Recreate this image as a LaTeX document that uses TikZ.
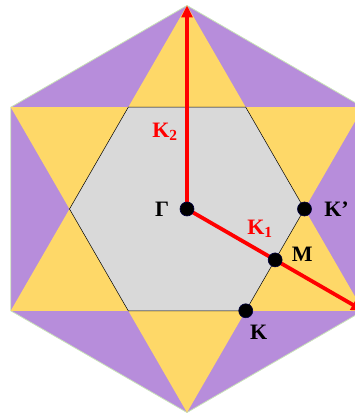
\documentclass[tikz,border=0pt]{standalone}
\usepackage{fontspec}
\setmainfont{Liberation Serif}
\usetikzlibrary{arrows.meta, positioning}
\definecolor{bzpurple}{HTML}{B78DDB}
\definecolor{bzyellow}{HTML}{FED868}
\definecolor{bzgray}{HTML}{D9D9D9}
\definecolor{bzedge}{HTML}{C9E3B8}

\begin{document}
\begin{tikzpicture}[
    x=1pt, y=1pt,
    vec/.style={-{Triangle[length=12pt, width=11pt]}, red, line width=3.8pt},
    kpoint/.style={circle, fill=black, draw=black!75!blue, line width=0.6pt,
      minimum size=14pt, inner sep=0pt},
    lbl/.style={font=\fontsize{22}{24}\selectfont\bfseries},
  ]
  \clip (-187,-206) rectangle (168,209);

  % ---- outer hexagon with the star inside ----
  \filldraw[fill=bzpurple, draw=bzedge, line width=0.8pt]
    (30:203.5) -- (90:203.5) -- (150:203.5) -- (210:203.5)
    -- (270:203.5) -- (330:203.5) -- cycle;
  \fill[bzyellow] (90:203.5) -- (210:203.5) -- (330:203.5) -- cycle;
  \fill[bzyellow] (30:203.5) -- (150:203.5) -- (270:203.5) -- cycle;

  % ---- first zone ----
  \filldraw[fill=bzgray, draw=black, line width=0.5pt]
    (0:117.5) -- (60:117.5) -- (120:117.5) -- (180:117.5)
    -- (240:117.5) -- (300:117.5) -- cycle;

  % ---- points ----
  \coordinate (G) at (0,0);
  \coordinate (Kp) at (0:117.5);
  \coordinate (M) at (-30:101.8);
  \coordinate (K) at (-60:117.5);
  \coordinate (b2) at (90:203.5);
  \coordinate (b1) at (-30:203.5);

  % reciprocal vectors
  \draw[vec] (G) -- (b2);
  \draw[vec] (G) -- (b1);
  \node[lbl, text=red] (k2lbl) at (-22,77) {K\textsubscript{2}};
  \node[lbl, text=red] (k1lbl) at (73,-20) {K\textsubscript{1}};

  \node[kpoint] (Gdot) at (G) {};
  \node[kpoint] (Kpdot) at (Kp) {};
  \node[kpoint] (Mdot) at (M) {};
  \node[kpoint] (Kdot) at (K) {};

  \node[lbl, left=7pt of Gdot] (glbl) {Γ};
  \node[lbl, right=9pt of Kpdot] (kplbl) {K’};
  \node[lbl, right=6pt of Mdot, yshift=6pt] (mlbl) {M};
  \node[lbl, below=4pt of Kdot, xshift=13pt] (klbl) {K};

\end{tikzpicture}
\end{document}
